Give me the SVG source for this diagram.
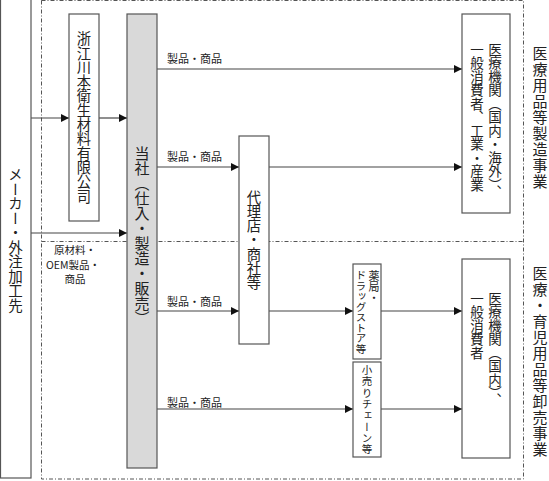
<svg xmlns="http://www.w3.org/2000/svg" width="549" height="481" viewBox="0 0 549 481">
<defs>
<style>
.box{fill:#fff;stroke:#555;stroke-width:1.2}
.gray{fill:#d9d9d9;stroke:#555;stroke-width:1.2}
.ln{stroke:#444;stroke-width:1.2;fill:none}
.dash{stroke:#555;stroke-width:1;fill:none;stroke-dasharray:4 2 1 2}
text{font-family:"Noto Sans CJK JP","Noto Sans",sans-serif;fill:#222}
.v{writing-mode:vertical-rl}
.vm{writing-mode:vertical-rl;text-anchor:middle}
.lab{font-size:11px}
.lab2{font-size:10.5px}
</style>
<marker id="ah" viewBox="0 0 8 8" refX="8" refY="4" markerWidth="8" markerHeight="8" markerUnits="userSpaceOnUse" orient="auto">
<path d="M0,0 L8,4 L0,8 z" fill="#111"/>
</marker>
</defs>

<g id="regions">
<rect class="dash" x="41.5" y="0.5" width="482" height="478.5"/>
<line class="dash" x1="41.5" y1="241.5" x2="523.5" y2="241.5"/>
<text class="vm" x="540" y="118" style="font-size:15px;letter-spacing:1px">医療用品等製造事業</text>
<text class="vm" x="540" y="362" style="font-size:15px;letter-spacing:1px">医療・育児用品等卸売事業</text>
</g>

<g id="connectors">
<line class="ln" x1="31" y1="118" x2="69" y2="118" marker-end="url(#ah)"/>
<line class="ln" x1="99" y1="118" x2="127" y2="118" marker-end="url(#ah)"/>
<line class="ln" x1="31" y1="233" x2="127" y2="233" marker-end="url(#ah)"/>
<line class="ln" x1="157" y1="69" x2="462" y2="69" marker-end="url(#ah)"/>
<line class="ln" x1="157" y1="167" x2="239" y2="167" marker-end="url(#ah)"/>
<line class="ln" x1="269" y1="167" x2="462" y2="167" marker-end="url(#ah)"/>
<line class="ln" x1="157" y1="311" x2="239" y2="311" marker-end="url(#ah)"/>
<line class="ln" x1="269" y1="311" x2="353" y2="311" marker-end="url(#ah)"/>
<line class="ln" x1="381" y1="311" x2="462" y2="311" marker-end="url(#ah)"/>
<line class="ln" x1="157" y1="409" x2="353" y2="409" marker-end="url(#ah)"/>
<line class="ln" x1="381" y1="409" x2="462" y2="409" marker-end="url(#ah)"/>
<text class="lab" x="167" y="63">製品・商品</text>
<text class="lab" x="167" y="161">製品・商品</text>
<text class="lab" x="167" y="306">製品・商品</text>
<text class="lab" x="167" y="407">製品・商品</text>
<text class="lab2" x="75" y="254" text-anchor="middle">原材料・</text>
<text class="lab2" x="73" y="268.5" text-anchor="middle">OEM製品・</text>
<text class="lab2" x="75" y="283" text-anchor="middle">商品</text>
</g>

<g id="maker">
<rect class="box" x="0.5" y="-2" width="30.5" height="480"/>
<text class="vm" x="15.5" y="240" style="font-size:14.5px">メーカー・外注加工先</text>
</g>

<g id="kawamoto">
<rect class="box" x="69" y="14" width="30" height="207"/>
<text class="vm" x="84" y="117.5" style="font-size:14.3px">浙江川本衛生材料有限公司</text>
</g>

<g id="tosha">
<rect class="gray" x="127" y="14" width="30" height="454"/>
<text class="vm" x="142" y="236" style="font-size:15px">当社（仕入・製造・販売）</text>
</g>

<g id="dairiten">
<rect class="box" x="239" y="136" width="30" height="208"/>
<text class="vm" x="254" y="240" style="font-size:14.3px">代理店・商社等</text>
</g>

<g id="yakkyoku">
<rect class="box" x="353" y="264" width="28" height="95"/>
<text class="v" x="374" y="270" style="font-size:11px">薬局・</text>
<text class="v" x="361" y="270" style="font-size:10.5px">ドラッグストア等</text>
</g>

<g id="kouri">
<rect class="box" x="353" y="362" width="28" height="95"/>
<text class="vm" x="367" y="410" style="font-size:10.5px;letter-spacing:0.8px">小売りチェーン等</text>
</g>

<g id="dest-top">
<rect class="box" x="462" y="14" width="48" height="199"/>
<text class="v" x="495" y="43" style="font-size:13.5px">医療機関（国内・海外）、</text>
<text class="v" x="477" y="43" style="font-size:13.5px">一般消費者、工業・産業</text>
</g>

<g id="dest-bottom">
<rect class="box" x="462" y="259" width="48" height="199"/>
<text class="v" x="495" y="292" style="font-size:13.5px">医療機関（国内）、</text>
<text class="v" x="477" y="292" style="font-size:13.5px">一般消費者</text>
</g>
</svg>
